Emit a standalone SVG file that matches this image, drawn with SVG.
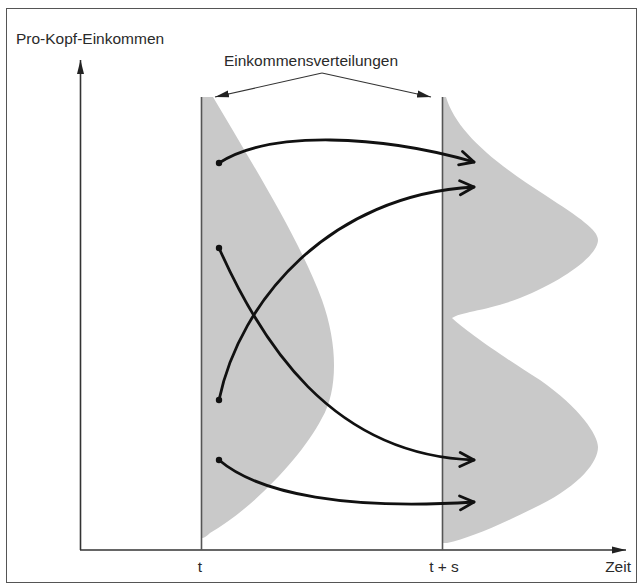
<svg xmlns="http://www.w3.org/2000/svg" width="642" height="588" viewBox="0 0 642 588">
<style>
.lbl{font-family:"Liberation Sans",Arial,sans-serif;font-size:15.5px;fill:#2a2a2a}
.axis{stroke:#333;stroke-width:1.6;fill:none}
.vline{stroke:#555;stroke-width:1.6;fill:none}
.dist{fill:#c9c9c9;stroke:none}
.flow{stroke:#111;stroke-width:2.8;fill:none;stroke-linecap:round}
.thin{stroke:#333;stroke-width:1.2;fill:none}
</style>
<defs>
<marker id="tri" viewBox="-14 -4 14 8" refX="0" refY="0" markerWidth="14" markerHeight="8" markerUnits="userSpaceOnUse" orient="auto">
<path d="M-14,-3.5 L0,0 L-14,3.5 Z" fill="#222"/>
</marker>
<marker id="chev" viewBox="-16 -9 18 18" refX="0" refY="0" markerWidth="18" markerHeight="18" markerUnits="userSpaceOnUse" orient="auto">
<path d="M-14,-7 L0,0 L-14,7" fill="none" stroke="#111" stroke-width="2.8" stroke-linecap="round" stroke-linejoin="round"/>
</marker>
</defs>
<rect x="6.5" y="8.5" width="630" height="574" fill="#fff" stroke="#555" stroke-width="1"/>
<g id="distribution-t">
<path class="dist" d="M202,97 L213,97 C250,160 300,240 322,300 C338,345 338,390 322,418 C300,460 250,510 210,533 Q205,538 202,538 Z"/>
</g>
<g id="distribution-ts">
<path class="dist" d="M443,97 L446,97 C456,130 490,160 545,195 C580,218 598,230 598,240 C598,255 565,280 520,298 C490,310 460,312 452,318 C465,330 500,355 540,380 C580,408 598,435 598,447 C598,462 580,485 540,505 C500,525 470,538 447,543 L443,543 Z"/>
</g>
<g id="axes">
<line class="axis" x1="80.5" y1="550" x2="80.5" y2="60" marker-end="url(#tri)"/>
<line class="axis" x1="80" y1="550" x2="626" y2="550" marker-end="url(#tri)"/>
<line class="vline" x1="201.5" y1="97" x2="201.5" y2="550"/>
<line class="vline" x1="442.5" y1="97" x2="442.5" y2="550"/>
</g>
<g id="connectors">
<path class="flow" d="M219,163 C270,130 380,135 474,162" marker-end="url(#chev)"/>
<path class="flow" d="M219,400 C240,300 330,195 474,187" marker-end="url(#chev)"/>
<path class="flow" d="M219,248 C260,340 330,455 474,460" marker-end="url(#chev)"/>
<path class="flow" d="M219,460 C260,495 350,510 474,502" marker-end="url(#chev)"/>
<circle cx="219" cy="163" r="3.2" fill="#111"/>
<circle cx="219" cy="248" r="3.2" fill="#111"/>
<circle cx="219" cy="400" r="3.2" fill="#111"/>
<circle cx="219" cy="460" r="3.2" fill="#111"/>
<line class="thin" x1="322" y1="73" x2="215" y2="97" marker-end="url(#tri)"/>
<line class="thin" x1="322" y1="73" x2="431" y2="97" marker-end="url(#tri)"/>
</g>
<g id="labels">
<text class="lbl" x="16" y="44">Pro-Kopf-Einkommen</text>
<text class="lbl" x="311" y="66" text-anchor="middle">Einkommensverteilungen</text>
<text class="lbl" x="200" y="572" text-anchor="middle">t</text>
<text class="lbl" x="444" y="572" text-anchor="middle">t + s</text>
<text class="lbl" x="631" y="572" text-anchor="end">Zeit</text>
</g>
</svg>
